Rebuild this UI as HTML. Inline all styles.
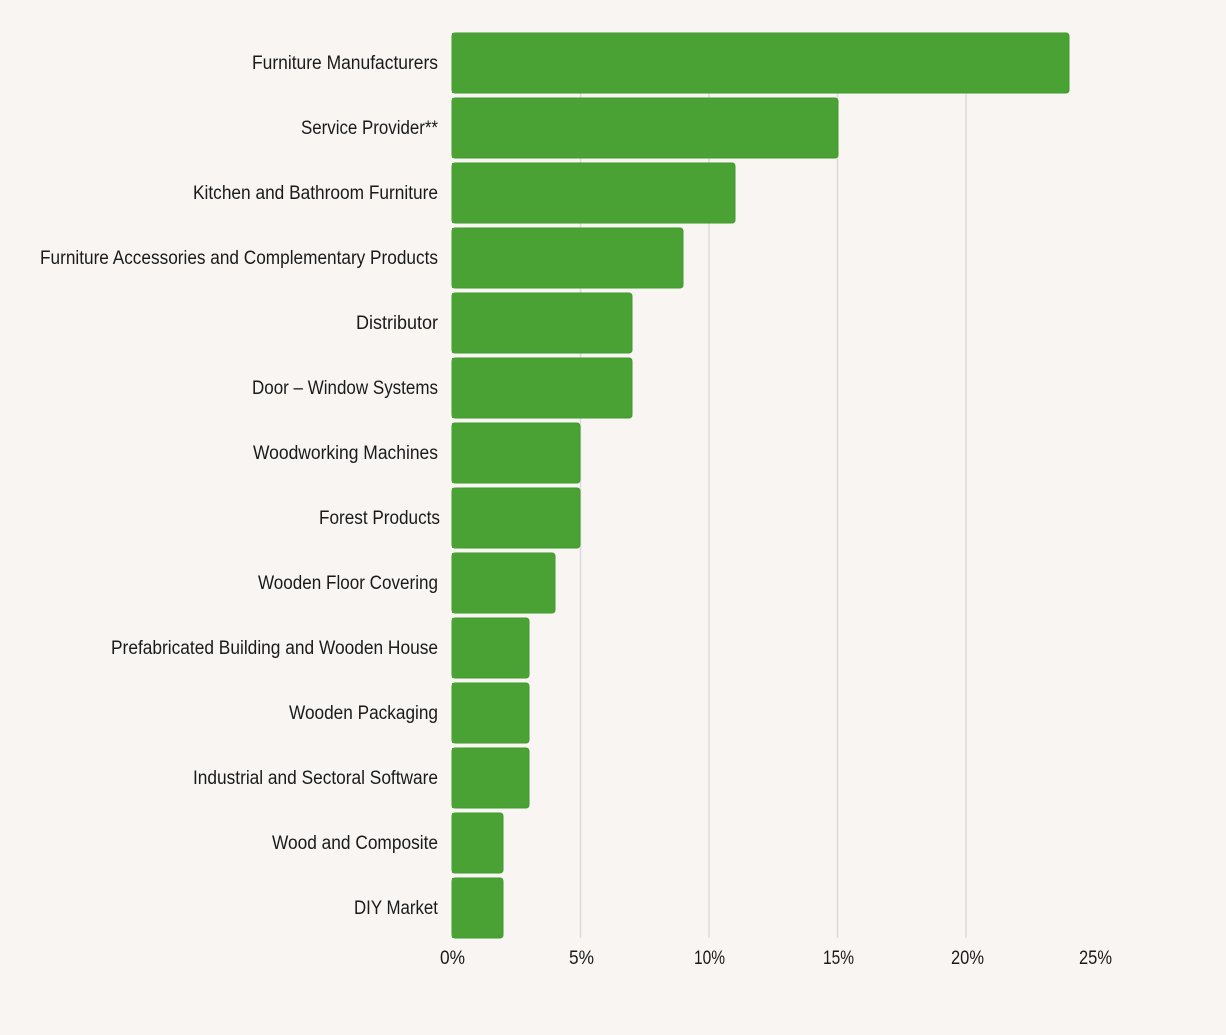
<!DOCTYPE html>
<html><head><style>body{margin:0;background:#f8f5f3}</style></head><body>
<svg width="1226" height="1030" xmlns="http://www.w3.org/2000/svg" font-family="Liberation Sans, sans-serif">
<rect width="1226" height="1030" fill="#f8f5f3"/>
<g stroke="#dcdcdc" stroke-width="1.5">
<line x1="580.5" y1="33" x2="580.5" y2="938"/>
<line x1="709" y1="33" x2="709" y2="938"/>
<line x1="837.5" y1="33" x2="837.5" y2="938"/>
<line x1="966" y1="33" x2="966" y2="938"/>
</g>
<g fill="#4aa235" stroke="#3f9a2c" stroke-width="1">
<rect x="452" y="33" width="617" height="60" rx="3"/>
<rect x="452" y="98" width="386" height="60" rx="3"/>
<rect x="452" y="163" width="283" height="60" rx="3"/>
<rect x="452" y="228" width="231" height="60" rx="3"/>
<rect x="452" y="293" width="180" height="60" rx="3"/>
<rect x="452" y="358" width="180" height="60" rx="3"/>
<rect x="452" y="423" width="128" height="60" rx="3"/>
<rect x="452" y="488" width="128" height="60" rx="3"/>
<rect x="452" y="553" width="103" height="60" rx="3"/>
<rect x="452" y="618" width="77" height="60" rx="3"/>
<rect x="452" y="683" width="77" height="60" rx="3"/>
<rect x="452" y="748" width="77" height="60" rx="3"/>
<rect x="452" y="813" width="51" height="60" rx="3"/>
<rect x="452" y="878" width="51" height="60" rx="3"/>
</g>
<g fill="#4aa235">
<rect x="452" y="33" width="6" height="60"/><rect x="452" y="98" width="6" height="60"/>
<rect x="452" y="163" width="6" height="60"/><rect x="452" y="228" width="6" height="60"/>
<rect x="452" y="293" width="6" height="60"/><rect x="452" y="358" width="6" height="60"/>
<rect x="452" y="423" width="6" height="60"/><rect x="452" y="488" width="6" height="60"/>
<rect x="452" y="553" width="6" height="60"/><rect x="452" y="618" width="6" height="60"/>
<rect x="452" y="683" width="6" height="60"/><rect x="452" y="748" width="6" height="60"/>
<rect x="452" y="813" width="6" height="60"/><rect x="452" y="878" width="6" height="60"/>
</g>
<g font-size="19" fill="#1a1a1a">
<text x="252" y="69" textLength="186" lengthAdjust="spacingAndGlyphs">Furniture Manufacturers</text>
<text x="301" y="134" textLength="137" lengthAdjust="spacingAndGlyphs">Service Provider**</text>
<text x="193" y="199" textLength="245" lengthAdjust="spacingAndGlyphs">Kitchen and Bathroom Furniture</text>
<text x="40" y="264" textLength="398" lengthAdjust="spacingAndGlyphs">Furniture Accessories and Complementary Products</text>
<text x="356" y="329" textLength="82" lengthAdjust="spacingAndGlyphs">Distributor</text>
<text x="252" y="394" textLength="186" lengthAdjust="spacingAndGlyphs">Door – Window Systems</text>
<text x="253" y="459" textLength="185" lengthAdjust="spacingAndGlyphs">Woodworking Machines</text>
<text x="319" y="524" textLength="121" lengthAdjust="spacingAndGlyphs">Forest Products</text>
<text x="258" y="589" textLength="180" lengthAdjust="spacingAndGlyphs">Wooden Floor Covering</text>
<text x="111" y="654" textLength="327" lengthAdjust="spacingAndGlyphs">Prefabricated Building and Wooden House</text>
<text x="289" y="719" textLength="149" lengthAdjust="spacingAndGlyphs">Wooden Packaging</text>
<text x="193" y="784" textLength="245" lengthAdjust="spacingAndGlyphs">Industrial and Sectoral Software</text>
<text x="272" y="849" textLength="166" lengthAdjust="spacingAndGlyphs">Wood and Composite</text>
<text x="354" y="914" textLength="84" lengthAdjust="spacingAndGlyphs">DIY Market</text>
</g>
<g font-size="19" fill="#1a1a1a">
<text x="440" y="964" textLength="25" lengthAdjust="spacingAndGlyphs">0%</text>
<text x="569" y="964" textLength="25" lengthAdjust="spacingAndGlyphs">5%</text>
<text x="694" y="964" textLength="31" lengthAdjust="spacingAndGlyphs">10%</text>
<text x="823" y="964" textLength="31" lengthAdjust="spacingAndGlyphs">15%</text>
<text x="951" y="964" textLength="33" lengthAdjust="spacingAndGlyphs">20%</text>
<text x="1079" y="964" textLength="33" lengthAdjust="spacingAndGlyphs">25%</text>
</g>
</svg>
</body></html>
